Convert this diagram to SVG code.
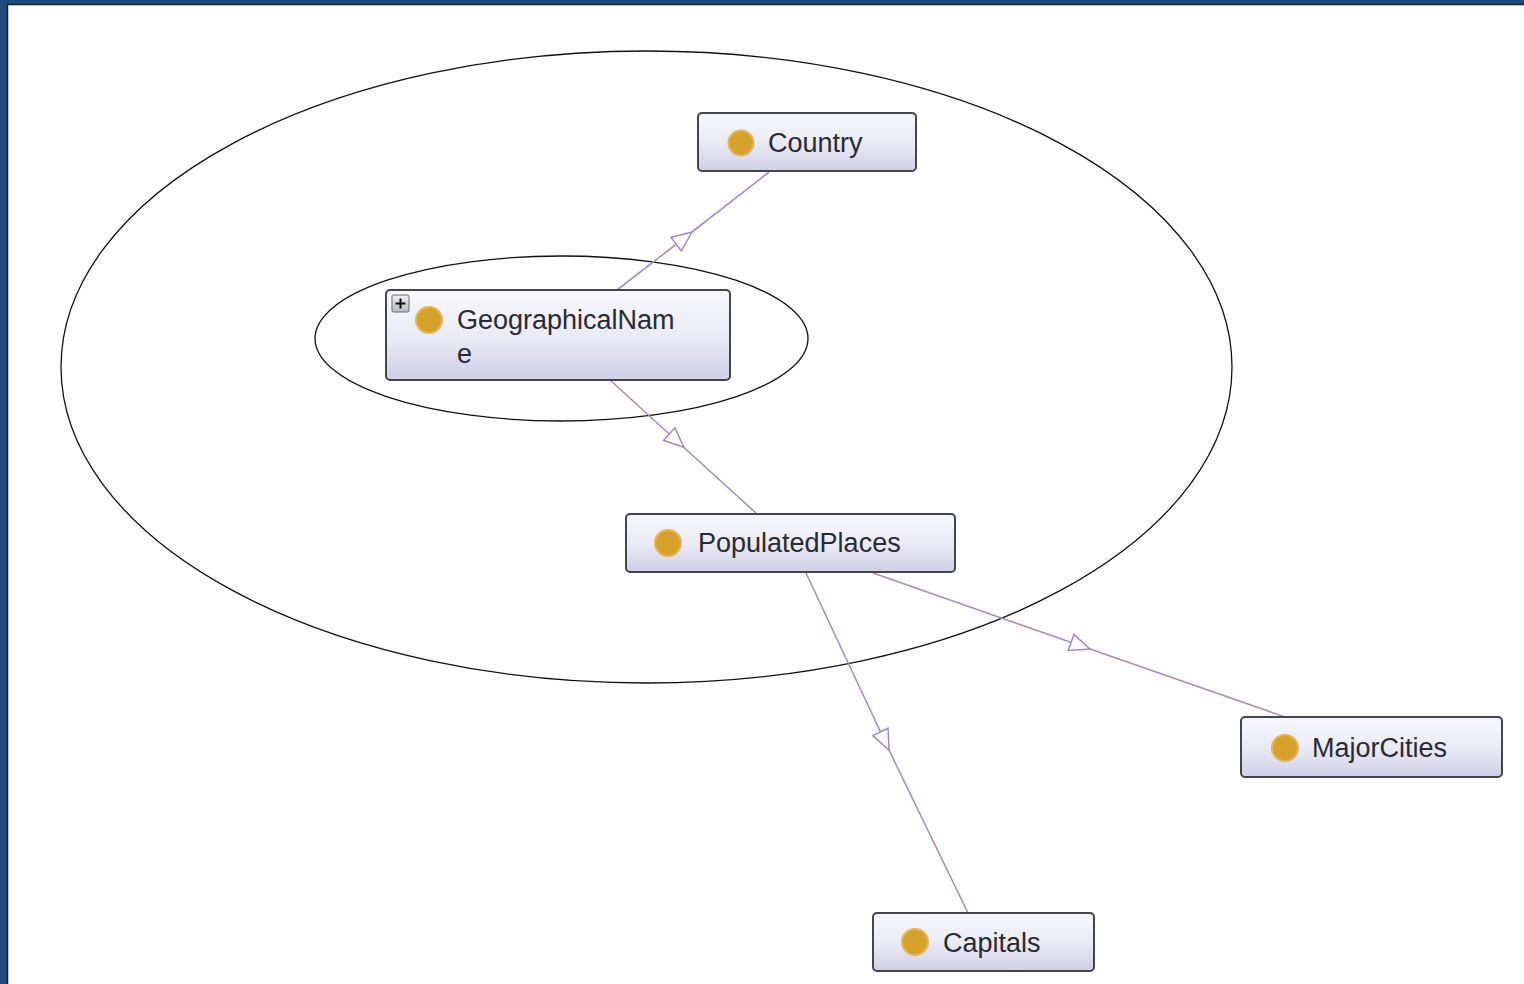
<svg xmlns="http://www.w3.org/2000/svg" width="1524" height="984" viewBox="0 0 1524 984">
<style>
.box{fill:url(#boxg);stroke:#45454f;stroke-width:2}
.dot{fill:#d6a12a;stroke:#e2b65a;stroke-width:2}
.lbl{font-family:"Liberation Sans",Arial,sans-serif;font-size:27px;fill:#2a2a35}
.edge{fill:none;stroke:#ad8dc0;stroke-width:1.6;marker-mid:url(#tri)}
.ell{fill:none;stroke:#111;stroke-width:1.3}
</style>
<defs>
<linearGradient id="boxg" x1="0" y1="0" x2="0" y2="1">
<stop offset="0" stop-color="#f7f7fc"/>
<stop offset="0.5" stop-color="#ebebf6"/>
<stop offset="1" stop-color="#cfcfe6"/>
</linearGradient>
<linearGradient id="plusg" x1="0" y1="0" x2="0" y2="1">
<stop offset="0" stop-color="#f2f2f2"/>
<stop offset="1" stop-color="#b8b8c0"/>
</linearGradient>
<marker id="tri" markerUnits="userSpaceOnUse" markerWidth="26" markerHeight="24" viewBox="-23 -12 26 24" refX="0" refY="0" orient="auto" overflow="visible">
<path d="M0,0 L-20,-8.5 L-20,8.5 Z" fill="#ffffff" stroke="#a888bb" stroke-width="1.5"/>
</marker>
</defs>
<rect x="0" y="0" width="1524" height="984" fill="#1f4a7d"/>
<rect x="8" y="5" width="1516" height="979" fill="#ffffff"/>
<line x1="7.5" y1="5" x2="7.5" y2="984" stroke="#0f2238" stroke-width="1.5"/>
<line x1="7" y1="4.5" x2="1524" y2="4.5" stroke="#0f2238" stroke-width="1.5"/>
<g id="groups">
<ellipse class="ell" cx="646.5" cy="367" rx="585.5" ry="316"/>
<ellipse class="ell" cx="561.5" cy="338.5" rx="246.5" ry="82.5"/>
</g>
<g id="connectors">
<path class="edge" d="M617,290 L692,232 L769,172"/>
<path class="edge" d="M610,380 L684,447.5 L757,514"/>
<path class="edge" d="M806,573 L889,750 L968,913"/>
<path class="edge" d="M873,573 L1090,649 L1285,717"/>
</g>
<g id="node-country">
<rect class="box" x="698" y="113" width="218" height="58" rx="4"/>
<circle class="dot" cx="741" cy="143" r="12.5"/>
<text class="lbl" x="768" y="152">Country</text>
</g>
<g id="node-geographicalname">
<rect class="box" x="386" y="290" width="344" height="90" rx="4"/>
<rect x="392" y="295" width="17" height="17" rx="1.5" fill="url(#plusg)" stroke="#6a6a72" stroke-width="1"/>
<path d="M395.5,303.5 H405.5 M400.5,298.5 V308.5" stroke="#111" stroke-width="2"/>
<circle class="dot" cx="429" cy="320" r="13"/>
<text class="lbl" x="457" y="329">GeographicalNam</text>
<text class="lbl" x="457" y="363">e</text>
</g>
<g id="node-populatedplaces">
<rect class="box" x="626" y="514" width="329" height="58" rx="4"/>
<circle class="dot" cx="668" cy="543" r="13"/>
<text class="lbl" x="698" y="552">PopulatedPlaces</text>
</g>
<g id="node-majorcities">
<rect class="box" x="1241" y="717" width="261" height="60" rx="4"/>
<circle class="dot" cx="1285" cy="748" r="13"/>
<text class="lbl" x="1312" y="757">MajorCities</text>
</g>
<g id="node-capitals">
<rect class="box" x="873" y="913" width="221" height="58" rx="4"/>
<circle class="dot" cx="915" cy="942" r="13"/>
<text class="lbl" x="943" y="952">Capitals</text>
</g>
</svg>
